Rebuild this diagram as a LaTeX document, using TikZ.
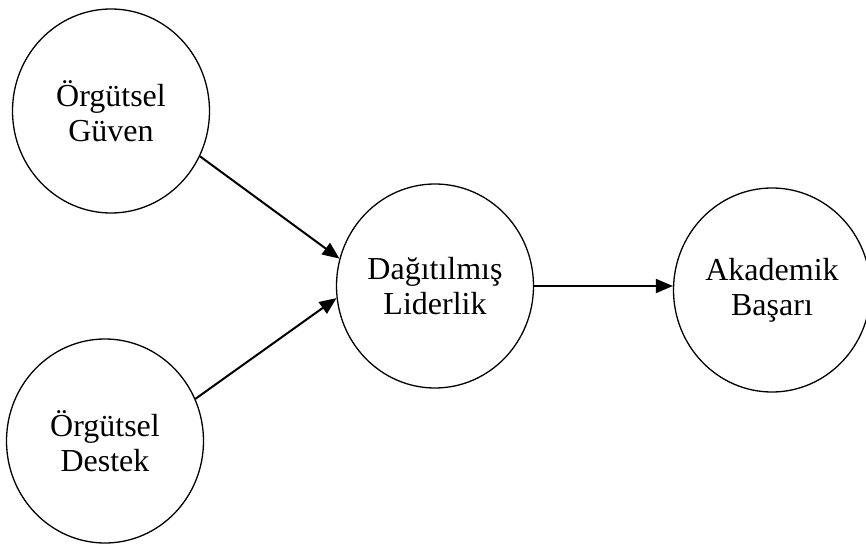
\documentclass[tikz,border=0pt]{standalone}
\usepackage{fontspec}
\setmainfont{Liberation Serif}
\usetikzlibrary{shapes.geometric,arrows.meta}
\tikzset{
  konstrukt/.style={draw, ellipse, line width=1.3pt, minimum width=197pt, minimum height=204pt,
    inner sep=0pt, align=center, font=\fontsize{32}{35}\selectfont},
  yol/.style={line width=2pt, -{Triangle[length=17pt,width=14pt]}}
}
\begin{document}
\begin{tikzpicture}[x=1pt,y=-1pt]
        \useasboundingbox (0,0) rectangle (866,545);
        \node[konstrukt] (guven) at (111,111) {Örgütsel\\Güven};
        \node[konstrukt] (destek) at (105,441) {Örgütsel\\Destek};
        \node[konstrukt] (liderlik) at (435,286) {Dağıtılmış\\Liderlik};
        \node[konstrukt] (basari) at (772,290) {Akademik\\Başarı};
        \draw[yol] (guven.-27) -- (liderlik.164);
        \draw[yol] (destek.25) -- (liderlik.187);
        \draw[yol] (liderlik.east) -- (liderlik.east -| basari.west);
      \end{tikzpicture}
\end{document}
